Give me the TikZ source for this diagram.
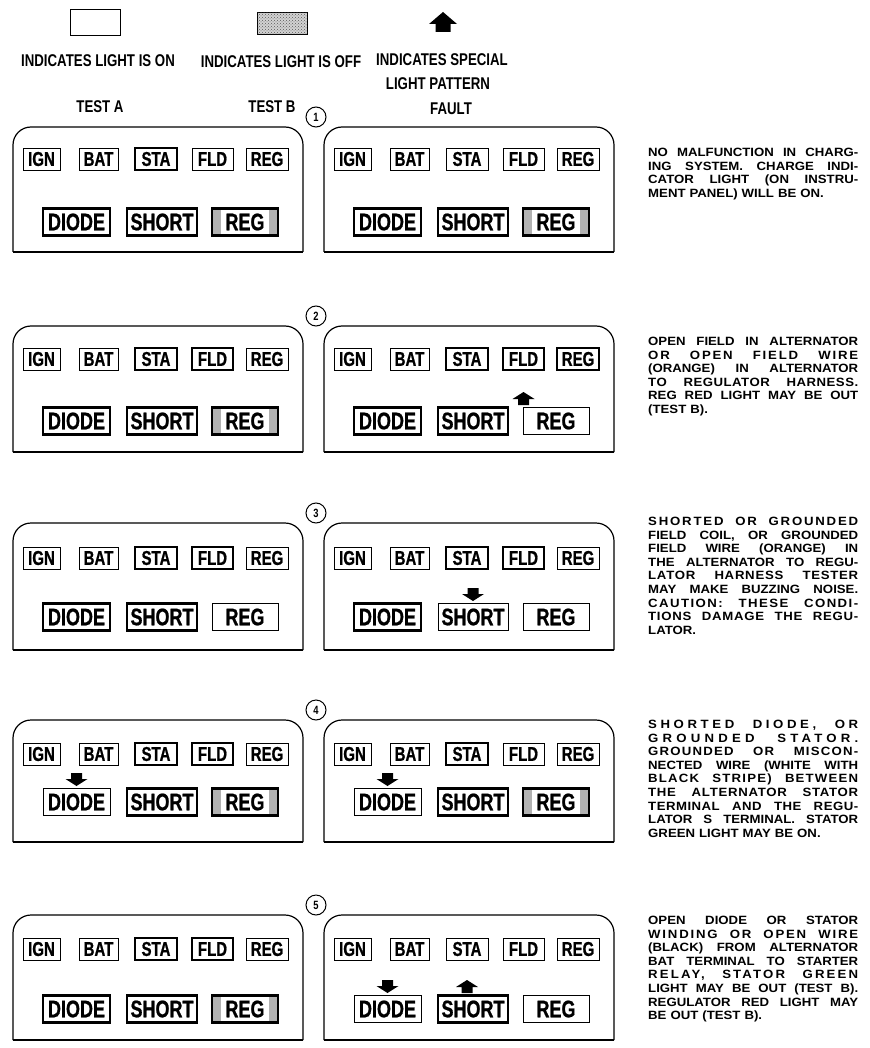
\documentclass[tikz,border=0pt]{standalone}
\usepackage{fontspec}
\usetikzlibrary{patterns}
\newfontfamily\lampfont[FakeStretch=0.75,FakeBold=0.8]{Liberation Sans}
\newfontfamily\hdrfont[FakeStretch=0.78]{Liberation Sans}
\newfontfamily\bodyfont[FakeStretch=1.1]{Liberation Sans}
\newlength\colw
\setlength\colw{210pt}
\def\jlw#1 #2\relax{#1\ifx\relax#2\relax\else\hfill\jlw#2\relax\fi}
\newcommand\jl[2][0]{\leavevmode\hbox to \colw{\addfontfeature{LetterSpace=#1}\jlw#2 \relax}\\}
\newcommand\panelbox[1]{%
  \draw[pline,rounded corners=18pt] (0,#1) -- (0,0) -- (290,0) -- (290,#1);
  \draw[pline] (0,#1) -- (290,#1);}
\newcommand\rowone[7]{%
  \node[#3,minimum width=37pt] (#1ign) at (28.5,#2) {IGN};
  \node[#4,minimum width=39pt] (#1bat) at (85.5,#2) {BAT};
  \node[#5,minimum width=42pt] (#1sta) at (143,#2) {STA};
  \node[#6,minimum width=41pt] (#1fld) at (199.5,#2) {FLD};
  \node[#7,minimum width=42pt] (#1reg) at (254,#2) {REG};}
\newcommand\rowtwo[5]{%
  \node[#3,big,minimum width=67pt] (#1dio) at (63.5,#2) {DIODE};
  \node[#4,big,minimum width=70pt] (#1sho) at (149,#2) {SHORT};
  \node[#5,big,minimum width=66pt] (#1rg2) at (232,#2) {REG};}
\begin{document}
\begin{tikzpicture}[x=1pt,y=-1pt,
  pline/.style={line width=1.2pt},
  on/.style={draw,line width=0.9pt,fill=white,inner sep=0pt,minimum height=22pt,
    font=\lampfont\bfseries\fontsize{20}{20}\selectfont},
  off/.style={on,line width=2.6pt},
  big/.style={minimum height=27pt,font=\lampfont\bfseries\fontsize{24}{24}\selectfont},
  regoff/.style={off,path picture={
    \fill[gray!60] (path picture bounding box.south west) rectangle ([xshift=9pt]path picture bounding box.north west);
    \fill[gray!60] (path picture bounding box.south east) rectangle ([xshift=-9pt]path picture bounding box.north east);}},
  hdr/.style={inner sep=0pt,font=\hdrfont\bfseries\fontsize{17}{17}\selectfont},
  numc/.style={circle,draw,line width=1pt,minimum size=20pt,inner sep=0pt,
    font=\hdrfont\bfseries\fontsize{12}{12}\selectfont},
  desc/.style={anchor=north west,inner sep=0pt,align=left,text width=\colw,
    font=\bodyfont\bfseries\fontsize{12}{13.6}\selectfont},
  uparr/.pic={\fill (0,-7) -- (11,0) -- (5.5,0) -- (5.5,6) -- (-5.5,6) -- (-5.5,0) -- (-11,0) -- cycle;},
  dnarr/.pic={\fill (0,7) -- (11,0) -- (5.5,0) -- (5.5,-6) -- (-5.5,-6) -- (-5.5,0) -- (-11,0) -- cycle;}
]
\useasboundingbox (0,0) rectangle (869,1048);
\fill[white] (0,0) rectangle (869,1048);

% legend
\node[draw,line width=1pt,minimum width=50pt,minimum height=26pt,inner sep=0pt] (onbox) at (95,23) {};
\node[draw,line width=1pt,fill=gray!35,postaction={pattern=crosshatch dots,pattern color=gray!70!black},
  minimum width=50pt,minimum height=22pt,inner sep=0pt] (offbox) at (282,24) {};
\fill (443,12) -- (457,24) -- (450.5,24) -- (450.5,32) -- (435.5,32) -- (435.5,24) -- (429,24) -- cycle;
\node[hdr] (onlbl) at (98,61) {INDICATES LIGHT IS ON};
\node[hdr] (offlbl) at (281,62) {INDICATES LIGHT IS OFF};
\node[hdr] (splbl) at (442,60) {INDICATES SPECIAL};
\node[hdr] (splbl2) at (438,84) {LIGHT PATTERN};
\node[hdr] (testa) at (100,107) {TEST A};
\node[hdr] (testb) at (272,107) {TEST B};
\node[hdr] (fault) at (451,109) {FAULT};

% numbers
\node[numc] (c1) at (316,117) {1};
\node[numc] (c2) at (316,316) {2};
\node[numc] (c3) at (316,513) {3};
\node[numc] (c4) at (316,710) {4};
\node[numc] (c5) at (316,905) {5};

% panel 1
\begin{scope}[shift={(13,127)}]
\panelbox{125}
\rowone{a1}{32}{on}{on}{off}{on}{on}
\rowtwo{a1}{95}{off}{off}{regoff}
\end{scope}
\begin{scope}[shift={(324,127)}]
\panelbox{125}
\rowone{b1}{32}{on}{on}{on}{on}{on}
\rowtwo{b1}{95}{off}{off}{regoff}
\end{scope}

% panel 2
\begin{scope}[shift={(13,326)}]
\panelbox{126}
\rowone{a2}{33}{on}{on}{off}{off}{on}
\rowtwo{a2}{95}{off}{off}{regoff}
\end{scope}
\begin{scope}[shift={(324,326)}]
\panelbox{126}
\rowone{b2}{33}{on}{on}{off}{off}{off}
\rowtwo{b2}{95}{off}{off}{on}
\pic at (199.5,73) {uparr};
\end{scope}

% panel 3
\begin{scope}[shift={(13,523)}]
\panelbox{127}
\rowone{a3}{35}{on}{on}{off}{off}{on}
\rowtwo{a3}{94}{off}{off}{on}
\end{scope}
\begin{scope}[shift={(324,523)}]
\panelbox{127}
\rowone{b3}{35}{on}{on}{off}{off}{on}
\rowtwo{b3}{94}{off}{on}{on}
\pic at (149,71) {dnarr};
\end{scope}

% panel 4
\begin{scope}[shift={(13,720)}]
\panelbox{122}
\rowone{a4}{34}{on}{on}{off}{off}{on}
\rowtwo{a4}{82}{on}{off}{regoff}
\pic at (63.5,59) {dnarr};
\end{scope}
\begin{scope}[shift={(324,720)}]
\panelbox{122}
\rowone{b4}{34}{on}{on}{off}{on}{on}
\rowtwo{b4}{82}{on}{off}{regoff}
\pic at (63.5,59) {dnarr};
\end{scope}

% panel 5
\begin{scope}[shift={(13,915)}]
\panelbox{125}
\rowone{a5}{34}{on}{on}{off}{off}{on}
\rowtwo{a5}{94}{off}{off}{regoff}
\end{scope}
\begin{scope}[shift={(324,915)}]
\panelbox{125}
\rowone{b5}{34}{on}{on}{on}{on}{on}
\rowtwo{b5}{94}{on}{off}{on}
\pic at (63.5,71) {dnarr};
\pic at (143,72) {uparr};
\end{scope}

% fault texts
\node[desc] (f1) at (648,148) {\jl{NO MALFUNCTION IN CHARG-}\jl{ING SYSTEM. CHARGE INDI-}\jl{CATOR LIGHT (ON INSTRU-}MENT PANEL) WILL BE ON.};
\node[desc] (f2) at (648,337) {\jl{OPEN FIELD IN ALTERNATOR}\jl[15]{OR OPEN FIELD WIRE}\jl{(ORANGE) IN ALTERNATOR}\jl[4]{TO REGULATOR HARNESS.}\jl{REG RED LIGHT MAY BE OUT}(TEST B).};
\node[desc] (f3) at (648,517) {\jl[15]{SHORTED OR GROUNDED}\jl{FIELD COIL, OR GROUNDED}\jl{FIELD WIRE (ORANGE) IN}\jl{THE ALTERNATOR TO REGU-}\jl[6]{LATOR HARNESS TESTER}\jl{MAY MAKE BUZZING NOISE.}\jl[12]{CAUTION: THESE CONDI-}\jl[6]{TIONS DAMAGE THE REGU-}LATOR.};
\node[desc] (f4) at (648,720) {\jl[30]{SHORTED DIODE, OR}\jl[35]{GROUNDED STATOR.}\jl[10]{GROUNDED OR MISCON-}\jl{NECTED WIRE (WHITE WITH}\jl[10]{BLACK STRIPE) BETWEEN}\jl[6]{THE ALTERNATOR STATOR}\jl[4]{TERMINAL AND THE REGU-}\jl{LATOR S TERMINAL. STATOR}GREEN LIGHT MAY BE ON.};
\node[desc] (f5) at (648,916) {\jl{OPEN DIODE OR STATOR}\jl[15]{WINDING OR OPEN WIRE}\jl{(BLACK) FROM ALTERNATOR}\jl{BAT TERMINAL TO STARTER}\jl[18]{RELAY, STATOR GREEN}\jl{LIGHT MAY BE OUT (TEST B).}\jl{REGULATOR RED LIGHT MAY}BE OUT (TEST B).};
\end{tikzpicture}
\end{document}
